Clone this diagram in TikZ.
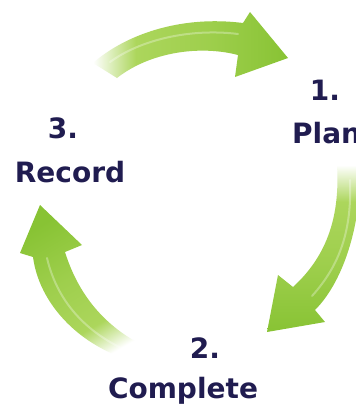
\documentclass[tikz,border=0pt]{standalone}
\usepackage{fontspec}
\setmainfont{DejaVu Sans}
\definecolor{cyclegreen}{RGB}{136,195,52}
\definecolor{cyclelight}{RGB}{172,214,92}
\definecolor{labelnavy}{RGB}{32,28,80}
\pgfdeclarehorizontalshading{arrowfade}{100bp}{color(0bp)=(white); color(25bp)=(white);
  color(36bp)=(cyclelight); color(55bp)=(cyclelight!60!cyclegreen);
  color(75bp)=(cyclegreen); color(100bp)=(cyclegreen)}

\begin{document}
\begin{tikzpicture}[x=1pt,y=-1pt,
  label/.style={text=labelnavy,font=\fontsize{28}{30}\selectfont\bfseries,inner sep=0pt,anchor=base},
  arrowbody/.style={shading=arrowfade},
  shine/.style={draw=white,opacity=0.3,line width=2pt,line cap=round}]
\fill[white] (0,0) rectangle (356,407);
\useasboundingbox (0,0) rectangle (356,407);
\shade[arrowbody,shading angle=0]
  (93,63) .. controls (125,35) and (180,15) .. (243,23) -- (250,12) -- (288,58)
  -- (235,77) -- (238,55) .. controls (200,45) and (150,52) .. (117,78) -- cycle;
\shade[arrowbody,shading angle=-90]
  (337,165) .. controls (340,215) and (328,255) .. (293,287) -- (278,275) -- (267,332)
  -- (325,322) -- (315,310) .. controls (345,280) and (362,220) .. (360,165) -- cycle;
\shade[arrowbody,shading angle=120]
  (148,348) .. controls (110,330) and (80,300) .. (65,252) -- (82,245) -- (40,205)
  -- (20,253) -- (33,257) .. controls (40,310) and (90,355) .. (148,364) -- cycle;
\draw[shine] (110,62) .. controls (140,40) and (190,28) .. (238,34);
\draw[shine] (350,180) .. controls (352,230) and (340,265) .. (312,296);
\draw[shine] (130,352) .. controls (90,335) and (58,305) .. (47,258);
\node[label] (one) at (325,100) {1.};
\node[label,anchor=base west] (plan) at (292,143) {Plan};
\node[label] (two) at (205,358) {2.};
\node[label] (complete) at (183,398) {Complete};
\node[label] (three) at (63,138) {3.};
\node[label] (record) at (70,182) {Record};
\end{tikzpicture}
\end{document}
